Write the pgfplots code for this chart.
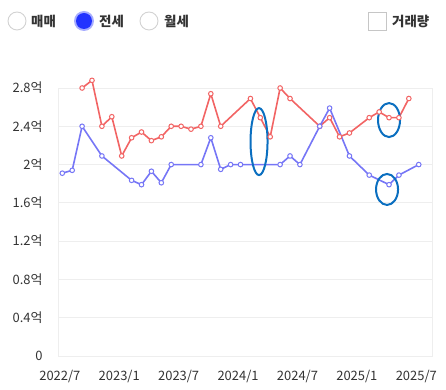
\documentclass[border=0pt]{standalone}
\usepackage{fontspec}
\setmainfont{Noto Sans CJK KR}
\usepackage{pgfplots}
\pgfplotsset{compat=1.18}
\definecolor{redl}{HTML}{F26464}
\definecolor{bluel}{HTML}{7676F6}
\definecolor{ann}{HTML}{0B6FC0}
\definecolor{gridc}{HTML}{EEEEEE}
\definecolor{txt}{HTML}{333333}
\definecolor{selb}{HTML}{2233FF}
\begin{document}
\begin{tikzpicture}
\path[use as bounding box] (0bp,0bp) rectangle (446bp,390bp);
% legend widgets
\draw[gray!35, line width=0.9bp] (17bp,369bp) circle (9bp);
\node[anchor=west, font=\fontsize{13.5}{15}\selectfont\bfseries, text=txt, inner sep=0] at (31bp,369bp) {매매};
\fill[selb!40] (84bp,369bp) circle (10bp);
\fill[selb] (84bp,369bp) circle (8bp);
\node[anchor=west, font=\fontsize{13.5}{15}\selectfont\bfseries, text=txt, inner sep=0] at (99bp,369bp) {전세};
\draw[gray!35, line width=0.9bp] (149bp,369bp) circle (9bp);
\node[anchor=west, font=\fontsize{13.5}{15}\selectfont\bfseries, text=txt, inner sep=0] at (164bp,369bp) {월세};
\draw[gray!45, line width=0.9bp] (368.5bp,359.5bp) rectangle (386.5bp,377.5bp);
\node[anchor=west, font=\fontsize{13.5}{15}\selectfont\bfseries, text=txt, inner sep=0] at (392bp,369bp) {거래량};
\begin{axis}[
  at={(58bp,34bp)}, anchor=south west,
  scale only axis, width=374bp, height=268bp,
  xmin=-0.434, xmax=37.34, ymin=0, ymax=2.8,
  clip=false,
  axis line style={draw=gridc, line width=0.8bp},
  ymajorgrids, grid style={draw=gridc, line width=0.8bp},
  major tick length=0,
  ytick={0,0.4,0.8,1.2,1.6,2,2.4,2.8},
  yticklabels={0,0.4억,0.8억,1.2억,1.6억,2억,2.4억,2.8억},
  xtick={-0.25,5.75,11.75,17.75,23.75,29.75,35.75},
  xticklabels={2022/7,2023/1,2023/7,2024/1,2024/7,2025/1,2025/7},
  tick label style={font=\fontsize{13}{15}\selectfont, text=txt},
  yticklabel style={xshift=-12bp},
  xticklabel style={yshift=-11bp},
]
\addplot[redl, line width=1.6bp, mark=*, mark size=2.3bp, mark options={fill=white, line width=1bp}] coordinates {
(2,2.80) (3,2.88) (4,2.40) (5,2.50) (6,2.09) (7,2.28) (8,2.34) (9,2.25) (10,2.29)
(11,2.40) (12,2.40) (13,2.37) (14,2.40) (15,2.74) (16,2.40) (19,2.69) (20,2.49)
(21,2.29) (22,2.80) (23,2.69) (26,2.40) (27,2.49) (28,2.29) (29,2.33) (31,2.49)
(32,2.55) (33,2.49) (34,2.49) (35,2.69)};
\addplot[bluel, line width=1.6bp, mark=*, mark size=2.3bp, mark options={fill=white, line width=1bp}] coordinates {
(0,1.91) (1,1.94) (2,2.40) (4,2.09) (7,1.835) (8,1.79) (9,1.93) (10,1.81) (11,2.00)
(14,2.00) (15,2.28) (16,1.95) (17,2.00) (18,2.00) (22,2.00) (23,2.09) (24,2.00)
(26,2.40) (27,2.59) (29,2.09) (31,1.89) (33,1.79) (34,1.89) (36,2.00)};
\draw[ann, line width=2bp] (axis cs:19.87,2.24) ellipse [x radius=8.5bp, y radius=33.5bp];
\draw[ann, line width=2bp] (axis cs:33.0,2.465) ellipse [x radius=11bp, y radius=17bp];
\draw[ann, line width=2bp] (axis cs:32.8,1.74) ellipse [x radius=11bp, y radius=15.5bp];
\end{axis}
\end{tikzpicture}
\end{document}
